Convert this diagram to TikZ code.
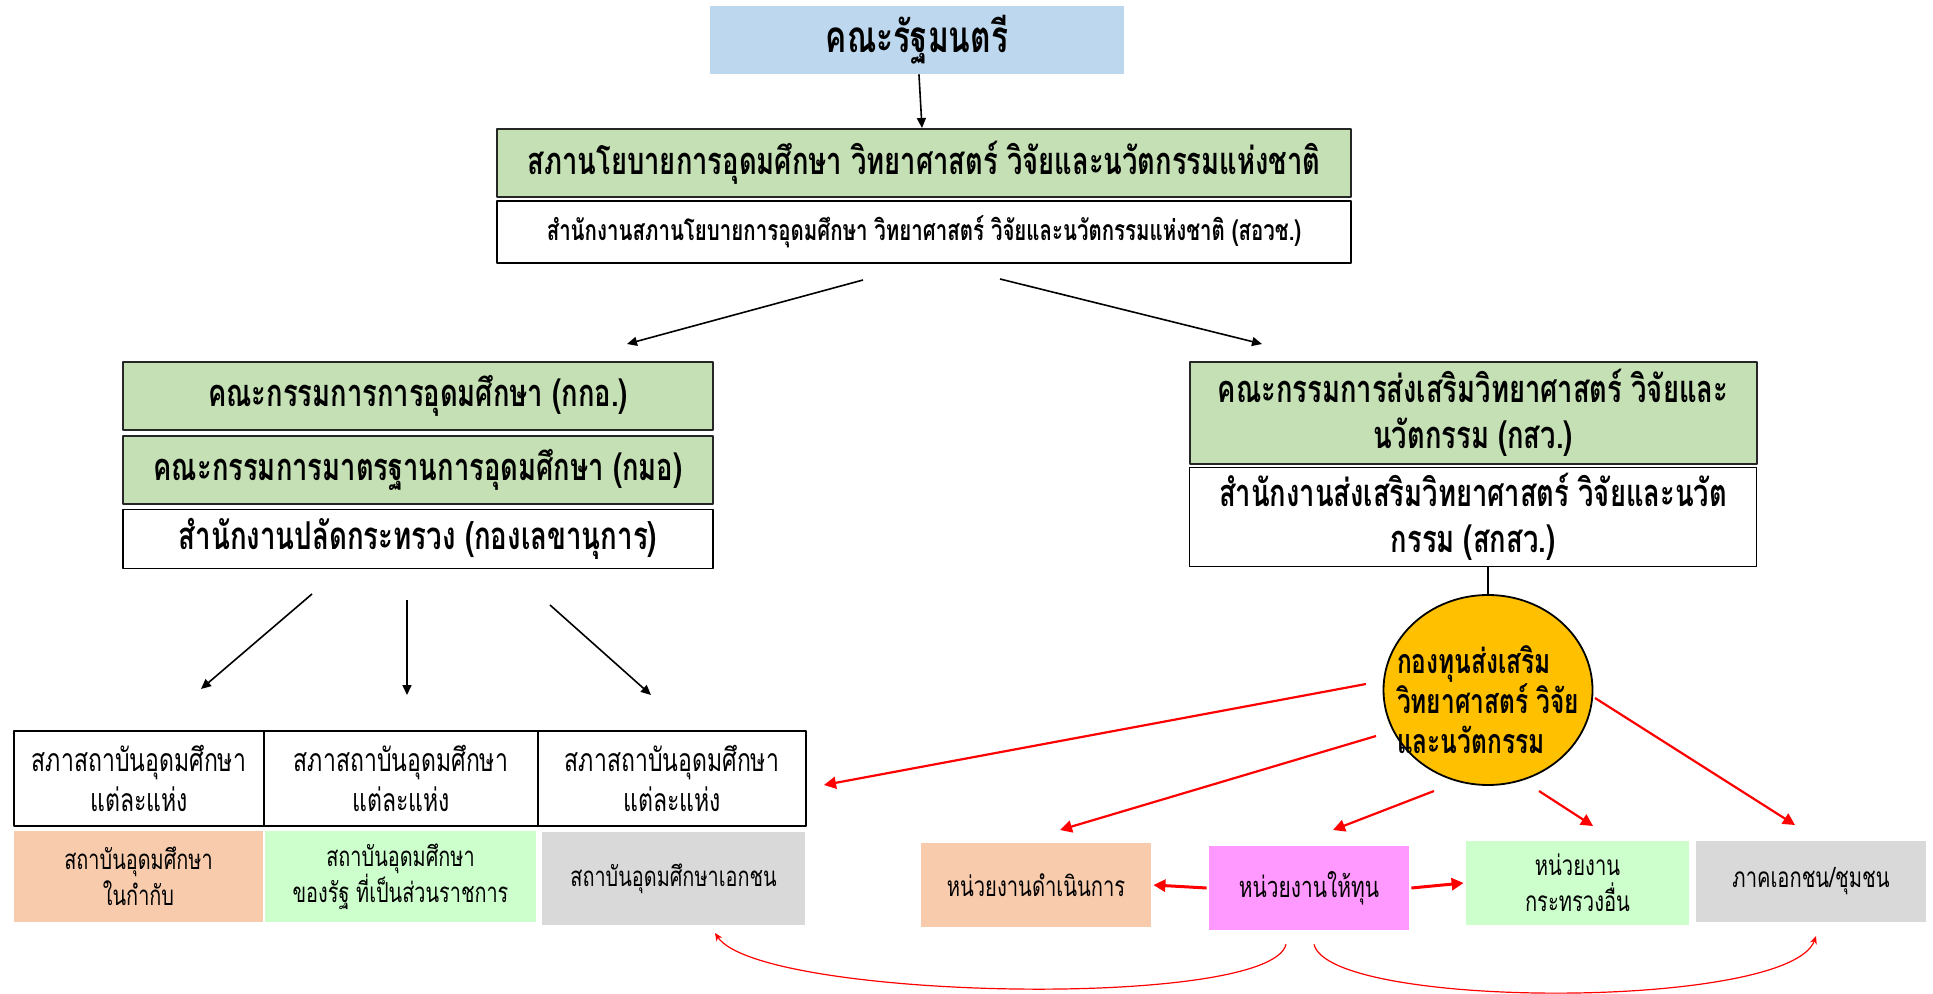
\documentclass[tikz,border=0pt]{standalone}
\usepackage{fontspec}
\newfontfamily\thai[Script=Thai,FakeStretch=0.72]{Loma}
\usetikzlibrary{shapes.geometric,arrows.meta}

\begin{document}
\begin{tikzpicture}[x=0.5pt, y=-0.5pt, line join=round, font=\thai,
    >={Triangle[length=5pt,width=4.5pt]}]
    \tikzset{box/.style={rectangle, inner sep=0pt, align=center},
        green box/.style={box, draw=black!85, line width=1pt, fill=boardgreen},
        white box/.style={box, draw=black, line width=0.9pt, fill=white},
        black arrow/.style={->, line width=0.8pt},
        red arrow/.style={->, red, line width=1.1pt, >={Triangle[length=6pt,width=6pt]}},
        red curve/.style={->, red, line width=0.6pt, >={Stealth[length=4pt,width=3.5pt]}}}
    \definecolor{boardgreen}{HTML}{C5E0B4}
    \definecolor{cabinetblue}{HTML}{BDD7EE}
    \definecolor{fundorange}{HTML}{FFC000}
    \definecolor{peach}{HTML}{F8CBAD}
    \definecolor{mint}{HTML}{CCFFCC}
    \definecolor{lightgray}{HTML}{D9D9D9}
    \definecolor{pinkish}{HTML}{FF99FF}
    \useasboundingbox (0,0) rectangle (1933,994);

    % top level
    \node[box, fill=cabinetblue, minimum width=207pt, minimum height=34pt,
        font=\thai\bfseries\fontsize{22}{26}\selectfont] (cabinet) at (917,40) {คณะรัฐมนตรี};
    \node[green box, minimum width=427pt, minimum height=34pt,
        font=\thai\bfseries\fontsize{19}{22}\selectfont] (council) at (924,163)
        {สภานโยบายการอุดมศึกษา วิทยาศาสตร์ วิจัยและนวัตกรรมแห่งชาติ};
    \node[white box, minimum width=427pt, minimum height=31pt,
        font=\thai\bfseries\fontsize{14.2}{17}\selectfont] (nxpo) at (924,232)
        {สำนักงานสภานโยบายการอุดมศึกษา วิทยาศาสตร์ วิจัยและนวัตกรรมแห่งชาติ (สอวช.)};
    \draw[black arrow] (cabinet) -- (council);

    % left branch
    \node[green box, minimum width=295pt, minimum height=34pt,
        font=\thai\bfseries\fontsize{19}{22}\selectfont] (ohec) at (418,396) {คณะกรรมการการอุดมศึกษา (กกอ.)};
    \node[green box, minimum width=295pt, minimum height=34pt,
        font=\thai\bfseries\fontsize{19}{22}\selectfont] (standard) at (418,470) {คณะกรรมการมาตรฐานการอุดมศึกษา (กมอ)};
    \node[white box, minimum width=295pt, minimum height=29.5pt,
        font=\thai\bfseries\fontsize{19.2}{22}\selectfont] (psec) at (418,539) {สำนักงานปลัดกระทรวง (กองเลขานุการ)};

    % right branch
    \node[green box, minimum width=283.5pt, minimum height=51pt,
        font=\thai\bfseries\fontsize{19}{23}\selectfont] (tsri board) at (1473,413)
        {คณะกรรมการส่งเสริมวิทยาศาสตร์ วิจัยและ\\นวัตกรรม (กสว.)};
    \node[white box, minimum width=283.5pt, minimum height=49.5pt,
        font=\thai\bfseries\fontsize{19}{23}\selectfont] (tsri) at (1473,517)
        {สำนักงานส่งเสริมวิทยาศาสตร์ วิจัยและนวัต\\กรรม (สกสว.)};
    \node[ellipse, draw, line width=0.9pt, fill=fundorange, inner sep=-10pt, minimum width=104.5pt,
        minimum height=95pt, align=left, font=\thai\bfseries\fontsize{17}{20}\selectfont] (fund) at (1488,690)
        {\rule{0pt}{24pt}กองทุนส่งเสริม\\วิทยาศาสตร์ วิจัย\\และนวัตกรรม};
    \draw[line width=0.8pt] (fund.north) -- (fund.north |- tsri.south);

    \coordinate (nxpo left) at (863,280);
    \coordinate (nxpo right) at (1000,279);
    \coordinate (to left) at (627,344);
    \coordinate (to right) at (1262,344);
    \draw[black arrow] (nxpo left) -- (to left);
    \draw[black arrow] (nxpo right) -- (to right);

    % university councils
    \foreach \n/\x/\w in {a/139/125, b/401/137, c/672/134}
        \node[white box, line width=1.1pt, minimum width=\w pt, minimum height=47.5pt,
            font=\thai\fontsize{16}{20}\selectfont] (uni \n) at (\x,778.5) {สภาสถาบันอุดมศึกษา\\แต่ละแห่ง};
    \node[box, fill=peach, minimum width=124.5pt, minimum height=45.5pt,
        font=\thai\fontsize{13.8}{18}\selectfont] (supervised) at (138.5,876.5) {สถาบันอุดมศึกษา\\ในกำกับ};
    \node[box, fill=mint, minimum width=135.5pt, minimum height=45.5pt,
        font=\thai\fontsize{13.8}{18}\selectfont] (public) at (400.5,876.5) {สถาบันอุดมศึกษา\\ของรัฐ ที่เป็นส่วนราชการ};
    \node[box, fill=lightgray, minimum width=131.5pt, minimum height=46.5pt,
        font=\thai\fontsize{13.8}{18}\selectfont] (private) at (673.5,878.5) {สถาบันอุดมศึกษาเอกชน};

    \coordinate (psec a) at (312,594);
    \coordinate (psec b) at (407,600);
    \coordinate (psec c) at (550,605);
    \coordinate (uni a top) at (201,689);
    \coordinate (uni b top) at (407,695);
    \coordinate (uni c top) at (651,695);
    \draw[black arrow] (psec a) -- (uni a top);
    \draw[black arrow] (psec b) -- (uni b top);
    \draw[black arrow] (psec c) -- (uni c top);

    % fund recipients
    \node[box, fill=peach, minimum width=115pt, minimum height=42pt,
        font=\thai\fontsize{14}{18}\selectfont] (operator) at (1036,885) {หน่วยงานดำเนินการ};
    \node[box, fill=pinkish, minimum width=100pt, minimum height=42pt,
        font=\thai\fontsize{14.5}{18}\selectfont] (funder) at (1309,888) {หน่วยงานให้ทุน};
    \node[box, fill=mint, minimum width=111.5pt, minimum height=42pt,
        font=\thai\fontsize{14}{18}\selectfont] (ministry) at (1577.5,883) {หน่วยงาน\\กระทรวงอื่น};
    \node[box, fill=lightgray, minimum width=115pt, minimum height=40.5pt,
        font=\thai\fontsize{14}{18}\selectfont] (community) at (1811,881.5) {ภาคเอกชน/ชุมชน};

    \coordinate (f1) at (1366,684);
    \coordinate (f2) at (1376,736);
    \coordinate (f3) at (1434,791);
    \coordinate (f4) at (1539,791);
    \coordinate (f5) at (1595,698);
    \coordinate (t1) at (824,785);
    \coordinate (t2) at (1060,830);
    \coordinate (t3) at (1333,830);
    \coordinate (t4) at (1593,826);
    \coordinate (t5) at (1795,825);
    \foreach \i in {1,...,5}
        \draw[red arrow] (f\i) -- (t\i);
    \draw[red arrow, line width=1.5pt] ([xshift=-1pt]funder.west) -- ([xshift=1pt]operator.east);
    \draw[red arrow, line width=1.5pt] ([xshift=1pt]funder.east) -- ([xshift=-1pt]ministry.west);

    \coordinate (loop left) at (715,933);
    \coordinate (loop right) at (1816,936);
    \draw[red curve] ([shift={(-23,14)}]funder.south) .. controls (1270,1010) and (760,1000) .. (loop left);
    \draw[red curve] ([shift={(5,14)}]funder.south) .. controls (1330,1010) and (1790,1010) .. (loop right);
\end{tikzpicture}
\end{document}
